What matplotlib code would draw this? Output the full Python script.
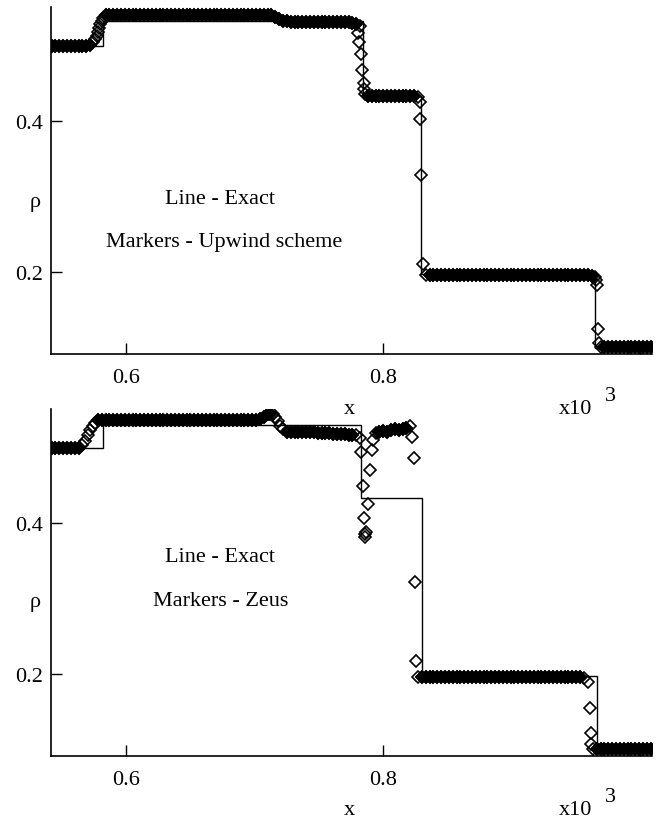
import matplotlib
matplotlib.use("Agg")
import matplotlib.pyplot as plt

plt.rcParams["font.family"] = ["Liberation Serif", "DejaVu Serif"]

# exact solution (step edges and levels)
exact_edges_top = [0.54, 0.582, 0.784, 0.829, 0.965, 1.02]
exact_rho_top = [0.500, 0.533, 0.433, 0.197, 0.100]
exact_edges_bot = [0.54, 0.582, 0.783, 0.830, 0.966, 1.02]
exact_rho_bot = [0.500, 0.530, 0.433, 0.197, 0.100]

# upwind scheme (top panel)
upwind_x = [
    0.542, 0.545, 0.548, 0.551, 0.554, 0.557, 0.560, 0.563, 0.566, 0.569, 0.572,
    0.5745, 0.576, 0.577, 0.578, 0.579, 0.580, 0.581, 0.582, 0.584,
    0.587, 0.590, 0.593, 0.596, 0.599, 0.602, 0.605, 0.608, 0.611, 0.614,
    0.617, 0.620, 0.623, 0.626, 0.629, 0.632, 0.635, 0.638, 0.641, 0.644,
    0.647, 0.650, 0.653, 0.656, 0.659, 0.662, 0.665, 0.668, 0.671, 0.674,
    0.677, 0.680, 0.683, 0.686, 0.689, 0.692, 0.695, 0.698, 0.701, 0.704,
    0.707,
    0.710, 0.713, 0.716, 0.719, 0.722, 0.725,
    0.728, 0.731, 0.734, 0.737, 0.740, 0.743, 0.746, 0.749, 0.752, 0.755,
    0.758, 0.761, 0.764, 0.767, 0.770, 0.773, 0.776,
    0.7785, 0.7816, 0.7803, 0.7811, 0.7823, 0.7837, 0.7847, 0.7850, 0.7860,
    0.788, 0.791, 0.794, 0.797, 0.800, 0.803, 0.806, 0.809, 0.812, 0.815,
    0.818, 0.821, 0.824, 0.827,
    0.8283, 0.8285, 0.8290, 0.8309,
    0.833, 0.836, 0.839, 0.842, 0.845, 0.848, 0.851, 0.854, 0.857, 0.860,
    0.863, 0.866, 0.869, 0.872, 0.875, 0.878, 0.881, 0.884, 0.887, 0.890,
    0.893, 0.896, 0.899, 0.902, 0.905, 0.908, 0.911, 0.914, 0.917, 0.920,
    0.923, 0.926, 0.929, 0.932, 0.935, 0.938, 0.941, 0.944, 0.947, 0.950,
    0.953, 0.956, 0.959, 0.962,
    0.9645, 0.9658, 0.9663, 0.9670, 0.9675,
    0.969, 0.972, 0.975, 0.978, 0.981, 0.984, 0.987, 0.990, 0.993, 0.996,
    0.999, 1.002, 1.005, 1.008,
]
upwind_rho = [
    0.500, 0.500, 0.500, 0.500, 0.500, 0.500, 0.500, 0.500, 0.500, 0.500, 0.501,
    0.504, 0.508, 0.513, 0.518, 0.523, 0.528, 0.533, 0.537, 0.540,
    0.541, 0.541, 0.541, 0.541, 0.541, 0.541, 0.541, 0.541, 0.541, 0.541,
    0.541, 0.541, 0.541, 0.541, 0.541, 0.541, 0.541, 0.541, 0.541, 0.541,
    0.541, 0.541, 0.541, 0.541, 0.541, 0.541, 0.541, 0.541, 0.541, 0.541,
    0.541, 0.541, 0.541, 0.541, 0.541, 0.541, 0.541, 0.541, 0.541, 0.541,
    0.541,
    0.541, 0.540, 0.538, 0.535, 0.533, 0.532,
    0.531, 0.531, 0.531, 0.531, 0.531, 0.531, 0.531, 0.531, 0.531, 0.531,
    0.531, 0.531, 0.531, 0.531, 0.531, 0.531, 0.530,
    0.529, 0.526, 0.517, 0.504, 0.489, 0.467, 0.451, 0.442, 0.436,
    0.433, 0.433, 0.433, 0.433, 0.433, 0.433, 0.433, 0.433, 0.433, 0.433,
    0.433, 0.433, 0.433, 0.432,
    0.425, 0.403, 0.328, 0.211,
    0.196, 0.196, 0.196, 0.196, 0.196, 0.196, 0.196, 0.196, 0.196, 0.196,
    0.196, 0.196, 0.196, 0.196, 0.196, 0.196, 0.196, 0.196, 0.196, 0.196,
    0.196, 0.196, 0.196, 0.196, 0.196, 0.196, 0.196, 0.196, 0.196, 0.196,
    0.196, 0.196, 0.196, 0.196, 0.196, 0.196, 0.196, 0.196, 0.196, 0.196,
    0.196, 0.196, 0.196, 0.195,
    0.194, 0.190, 0.183, 0.125, 0.106,
    0.101, 0.101, 0.101, 0.101, 0.101, 0.101, 0.101, 0.101, 0.101, 0.101,
    0.101, 0.101, 0.101, 0.101,
]

# Zeus scheme (bottom panel)
zeus_x = [
    0.542, 0.545, 0.548, 0.551, 0.554, 0.557, 0.560, 0.563,
    0.566, 0.568, 0.570, 0.572, 0.574, 0.576, 0.578, 0.581,
    0.584, 0.587, 0.590, 0.593, 0.596, 0.599, 0.602, 0.605, 0.608, 0.611,
    0.614, 0.617, 0.620, 0.623, 0.626, 0.629, 0.632, 0.635, 0.638, 0.641,
    0.644, 0.647, 0.650, 0.653, 0.656, 0.659, 0.662, 0.665, 0.668, 0.671,
    0.674, 0.677, 0.680, 0.683, 0.686, 0.689, 0.692, 0.695, 0.698, 0.701,
    0.704, 0.707, 0.710, 0.712, 0.714, 0.716, 0.718, 0.720, 0.722, 0.725,
    0.728, 0.731, 0.734, 0.737, 0.740, 0.743, 0.746, 0.749, 0.752, 0.755,
    0.758, 0.761, 0.764, 0.767, 0.770, 0.773, 0.776, 0.779,
    0.7821, 0.7826, 0.7842, 0.7847, 0.7860, 0.7866, 0.7860, 0.7878, 0.7900, 0.7910,
    0.7920,
    0.794, 0.797, 0.800, 0.803, 0.806, 0.809, 0.812, 0.815, 0.818, 0.821,
    0.8223, 0.8239, 0.8244, 0.8257,
    0.827, 0.830, 0.833, 0.836, 0.839, 0.842, 0.845, 0.848, 0.851, 0.854,
    0.857, 0.860, 0.863, 0.866, 0.869, 0.872, 0.875, 0.878, 0.881, 0.884,
    0.887, 0.890, 0.893, 0.896, 0.899, 0.902, 0.905, 0.908, 0.911, 0.914,
    0.917, 0.920, 0.923, 0.926, 0.929, 0.932, 0.935, 0.938, 0.941, 0.944,
    0.947, 0.950, 0.953, 0.956,
    0.9593, 0.9605, 0.9613, 0.9619,
    0.963, 0.966, 0.969, 0.972, 0.975, 0.978, 0.981, 0.984, 0.987, 0.990,
    0.993, 0.996, 0.999, 1.002, 1.005, 1.008,
]
zeus_rho = [
    0.500, 0.500, 0.500, 0.500, 0.500, 0.500, 0.500, 0.500,
    0.503, 0.509, 0.516, 0.523, 0.529, 0.533, 0.536, 0.537,
    0.537, 0.537, 0.537, 0.537, 0.537, 0.537, 0.537, 0.537, 0.537, 0.537,
    0.537, 0.537, 0.537, 0.537, 0.537, 0.537, 0.537, 0.537, 0.537, 0.537,
    0.537, 0.537, 0.537, 0.537, 0.537, 0.537, 0.537, 0.537, 0.537, 0.537,
    0.537, 0.537, 0.537, 0.537, 0.537, 0.537, 0.537, 0.537, 0.537, 0.537,
    0.538, 0.541, 0.544, 0.545, 0.544, 0.540, 0.535, 0.529, 0.524, 0.521,
    0.521, 0.521, 0.521, 0.520, 0.520, 0.520, 0.520, 0.519, 0.519, 0.519,
    0.519, 0.518, 0.518, 0.518, 0.518, 0.517, 0.517, 0.516,
    0.512, 0.494, 0.449, 0.407, 0.385, 0.388, 0.381, 0.425, 0.470, 0.497,
    0.510,
    0.519, 0.520, 0.522, 0.521, 0.523, 0.524, 0.523, 0.525, 0.526, 0.528,
    0.514, 0.486, 0.322, 0.217,
    0.196, 0.196, 0.196, 0.196, 0.196, 0.196, 0.196, 0.196, 0.196, 0.196,
    0.196, 0.196, 0.196, 0.196, 0.196, 0.196, 0.196, 0.196, 0.196, 0.196,
    0.196, 0.196, 0.196, 0.196, 0.196, 0.196, 0.196, 0.196, 0.196, 0.196,
    0.196, 0.196, 0.196, 0.196, 0.196, 0.196, 0.196, 0.196, 0.196, 0.196,
    0.196, 0.196, 0.196, 0.195,
    0.189, 0.155, 0.122, 0.107,
    0.101, 0.101, 0.101, 0.101, 0.101, 0.101, 0.101, 0.101, 0.101, 0.101,
    0.101, 0.101, 0.101, 0.101, 0.101, 0.101,
]

x_ticks = [0.6, 0.8, 1.0]
x_tick_labels = ["0.6", "0.8", ""]
y_ticks = [0.2, 0.4]
y_tick_labels = ["0.2", "0.4"]

W, H = 662, 820
FS = 16


def draw_panel(ax, edges, levels, num_x, num_rho):
    # points packed tightly with both neighbours merge into a solid band
    n = len(num_x)
    band_x, band_rho = [], []
    for i in range(n):
        close = True
        for j in (i - 1, i + 1):
            if 0 <= j < n and (abs(num_x[j] - num_x[i]) > 0.0035
                               or abs(num_rho[j] - num_rho[i]) > 0.004):
                close = False
        if close:
            band_x.append(num_x[i])
            band_rho.append(num_rho[i])

    ax.plot(num_x, num_rho, ls="none", marker="D", ms=6, mfc="none",
            mec="black", mew=1.2, zorder=2)
    ax.plot(band_x, band_rho, ls="none", marker="D", ms=6, mfc="black",
            mec="black", mew=1.2, zorder=2)
    ax.stairs(levels, edges, baseline=None, color="black", lw=1.0, zorder=3)
    ax.set_xlim(0.5416, 1.009)
    ax.set_ylim(0.0914, 0.551)
    ax.set_xticks(x_ticks)
    ax.set_xticklabels(x_tick_labels)
    ax.set_yticks(y_ticks)
    ax.set_yticklabels(y_tick_labels)
    ax.spines["top"].set_visible(False)
    ax.spines["right"].set_visible(False)
    for s in ["left", "bottom"]:
        ax.spines[s].set_linewidth(1.2)
    ax.tick_params(direction="in", length=8, width=1, labelsize=FS)
    ax.tick_params(axis="x", pad=10)
    ax.tick_params(axis="y", pad=6)


def ftext(x, y, s, **kw):
    fig.text(x / W, 1 - y / H, s, fontsize=FS, ha="center", va="center", **kw)


fig = plt.figure(figsize=(6.62, 8.2), dpi=100)
ax_top = fig.add_axes([51 / W, 1 - 355 / H, 601 / W, 347 / H])
ax_bot = fig.add_axes([51 / W, 1 - 757 / H, 601 / W, 347 / H])

draw_panel(ax_top, exact_edges_top, exact_rho_top, upwind_x, upwind_rho)
draw_panel(ax_bot, exact_edges_bot, exact_rho_bot, zeus_x, zeus_rho)

# top panel labels
ftext(35, 202, "ρ")
ftext(220, 200, "Line - Exact")
ftext(224, 243, "Markers - Upwind scheme")
ftext(349, 410, "x")
ftext(575, 410, "x10")
ftext(610, 397, "3")

# bottom panel labels
ftext(35, 603, "ρ")
ftext(220, 557, "Line - Exact")
ftext(221, 602, "Markers - Zeus")
ftext(349, 811, "x")
ftext(575, 811, "x10")
ftext(610, 798, "3")

fig.savefig("out.png", dpi=100)
